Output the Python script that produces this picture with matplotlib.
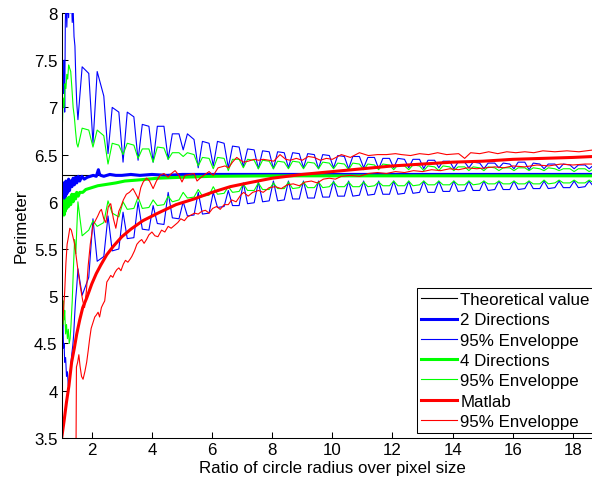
#=======================================================================
# perimeter of a digitised circle against its radius (pixel units)
#=======================================================================

import matplotlib
matplotlib.use('Agg')
import matplotlib.pyplot as plt
from matplotlib.ticker import FormatStrFormatter

#=======================================================================
# Data
#=======================================================================

x_theory = [1.0, 19.0]
y_theory = [6.2832, 6.2832]

# mean curves
x_mean2 = [1.0, 1.02, 1.04, 1.06, 1.08, 1.1, 1.12, 1.14, 1.16, 1.18, 1.2, 1.23,
           1.26, 1.3, 1.34, 1.38, 1.42, 1.46, 1.5, 1.55, 1.6, 1.67, 1.75, 1.85,
           1.95, 2.05, 2.15, 2.22, 2.26, 2.3, 2.4, 2.6, 2.8, 3.0, 3.3, 3.6, 4.0,
           4.5, 5.0, 6.0, 7.0, 8.0, 10.0, 12.0, 14.0, 16.0, 18.69]
y_mean2 = [5.98, 6.15, 5.95, 6.2, 6.02, 6.18, 6.05, 6.22, 6.08, 6.2, 6.1, 6.24,
           6.12, 6.22, 6.16, 6.25, 6.18, 6.26, 6.2, 6.27, 6.22, 6.27, 6.24, 6.26,
           6.27, 6.28, 6.27, 6.34, 6.29, 6.28, 6.27, 6.29, 6.28, 6.28, 6.29, 6.28, 6.29,
           6.28, 6.29, 6.29, 6.29, 6.29, 6.29, 6.29, 6.29, 6.29, 6.29]

x_mean4 = [1.0, 1.02, 1.04, 1.06, 1.08, 1.1, 1.12, 1.14, 1.17, 1.2, 1.23, 1.26,
           1.3, 1.34, 1.38, 1.42, 1.46, 1.5, 1.55, 1.6, 1.7, 1.8, 1.9, 2.0, 2.2,
           2.4, 2.6, 2.8, 3.1, 3.5, 4.2, 5.0, 6.0, 8.0, 10.0, 14.0, 18.69]
y_mean4 = [5.85, 6.02, 5.88, 6.0, 5.86, 5.98, 5.9, 6.02, 5.93, 6.04, 5.95, 6.05,
           5.97, 6.08, 6.0, 6.08, 6.03, 6.1, 6.06, 6.1, 6.1, 6.13, 6.14, 6.15, 6.17,
           6.18, 6.19, 6.2, 6.22, 6.23, 6.25, 6.26, 6.27, 6.275, 6.275, 6.275, 6.275]

x_matlab = [1.0, 1.08, 1.16, 1.24, 1.33, 1.42, 1.5, 1.6, 1.7, 1.83, 2.0, 2.15,
            2.3, 2.5, 2.72, 3.0, 3.3, 3.7, 4.2, 4.8, 5.4, 6.0, 6.6, 7.2, 8.0,
            9.0, 10.0, 11.0, 12.0, 13.0, 14.0, 15.0, 16.0, 17.0, 18.0, 18.69]
y_matlab = [3.5, 3.68, 3.88, 4.05, 4.3, 4.45, 4.6, 4.75, 4.88, 4.98, 5.13, 5.24,
            5.33, 5.44, 5.53, 5.63, 5.71, 5.8, 5.88, 5.97, 6.03, 6.1, 6.16, 6.2, 6.25,
            6.29, 6.32, 6.35, 6.38, 6.4, 6.42, 6.43, 6.45, 6.46, 6.47, 6.48]

# envelopes of the 2 and 4 direction methods: noisy start, then a
# ripple of period 0.5 sampled at cusp / shoulder / shoulder
x_osc = [1.54, 1.68, 1.9, 2.04, 2.18, 2.4, 2.54, 2.68, 2.9, 3.04, 3.18, 3.4,
         3.54, 3.68, 3.9, 4.04, 4.18, 4.4, 4.54, 4.68, 4.9, 5.04, 5.18, 5.4,
         5.54, 5.68, 5.9, 6.04, 6.18, 6.4, 6.54, 6.68, 6.9, 7.04, 7.18, 7.4,
         7.54, 7.68, 7.9, 8.04, 8.18, 8.4, 8.54, 8.68, 8.9, 9.04, 9.18, 9.4,
         9.54, 9.68, 9.9, 10.04, 10.18, 10.4, 10.54, 10.68, 10.9, 11.04, 11.18, 11.4,
         11.54, 11.68, 11.9, 12.04, 12.18, 12.4, 12.54, 12.68, 12.9, 13.04, 13.18, 13.4,
         13.54, 13.68, 13.9, 14.04, 14.18, 14.4, 14.54, 14.68, 14.9, 15.04, 15.18, 15.4,
         15.54, 15.68, 15.9, 16.04, 16.18, 16.4, 16.54, 16.68, 16.9, 17.04, 17.18, 17.4,
         17.54, 17.68, 17.9, 18.04, 18.18, 18.4, 18.54, 18.69]

x_up2_start = [1.0, 1.02, 1.04, 1.06, 1.08, 1.1, 1.12, 1.14, 1.17, 1.2, 1.23, 1.26,
               1.29, 1.32, 1.35, 1.38, 1.41, 1.44, 1.47, 1.5]
y_up2_start = [7.2, 7.05, 7.35, 7.15, 7.5, 6.95, 7.9, 8.2, 7.85, 8.2, 7.95, 8.2,
               8.0, 8.2, 7.9, 8.05, 7.75, 7.65, 7.3, 7.05]
y_up2 = [6.87, 7.43, 7.36, 6.62, 7.38, 7.12, 6.51, 7.0, 6.95, 6.42, 6.95, 6.9,
         6.44, 6.82, 6.8, 6.42, 6.8, 6.8, 6.45, 6.72, 6.72, 6.55, 6.72, 6.66,
         6.36, 6.64, 6.62, 6.38, 6.64, 6.62, 6.36, 6.59, 6.58, 6.37, 6.56, 6.55,
         6.35, 6.54, 6.53, 6.35, 6.53, 6.52, 6.36, 6.52, 6.51, 6.36, 6.51, 6.5,
         6.35, 6.5, 6.49, 6.36, 6.49, 6.48, 6.35, 6.48, 6.48, 6.36, 6.47, 6.47,
         6.35, 6.46, 6.46, 6.36, 6.46, 6.45, 6.36, 6.45, 6.45, 6.35, 6.44, 6.44,
         6.36, 6.43, 6.43, 6.35, 6.42, 6.42, 6.36, 6.42, 6.41, 6.35, 6.41, 6.41,
         6.36, 6.41, 6.4, 6.35, 6.42, 6.42, 6.34, 6.41, 6.4, 6.35, 6.4, 6.4,
         6.35, 6.4, 6.39, 6.35, 6.39, 6.39, 6.35, 6.39]

x_lo2_start = [1.0, 1.02, 1.04, 1.06, 1.08, 1.1, 1.13, 1.16, 1.19, 1.22, 1.25, 1.28,
               1.31, 1.34, 1.37, 1.4, 1.43, 1.46, 1.5]
y_lo2_start = [5.0, 4.6, 4.8, 4.45, 4.5, 4.3, 4.35, 4.15, 4.2, 4.05, 4.1, 4.18,
               4.3, 4.4, 4.48, 4.6, 4.79, 4.95, 5.1]
y_lo2 = [5.29, 5.01, 5.2, 5.82, 5.37, 5.42, 5.85, 5.48, 5.5, 5.89, 5.61, 5.62,
         6.0, 5.71, 5.7, 5.96, 5.77, 5.76, 6.1, 5.83, 5.82, 6.0, 5.85, 5.86,
         6.1, 5.87, 5.88, 6.1, 5.94, 5.95, 6.12, 5.96, 5.96, 6.2, 5.98, 5.99,
         6.21, 6.0, 6.01, 6.22, 6.01, 6.02, 6.22, 6.03, 6.03, 6.22, 6.04, 6.04,
         6.22, 6.05, 6.05, 6.22, 6.06, 6.06, 6.22, 6.06, 6.07, 6.22, 6.07, 6.08,
         6.22, 6.08, 6.08, 6.22, 6.08, 6.09, 6.22, 6.09, 6.1, 6.22, 6.1, 6.1,
         6.22, 6.11, 6.11, 6.22, 6.11, 6.12, 6.22, 6.12, 6.12, 6.22, 6.12, 6.13,
         6.22, 6.13, 6.13, 6.22, 6.13, 6.14, 6.22, 6.14, 6.14, 6.22, 6.14, 6.15,
         6.22, 6.15, 6.15, 6.22, 6.15, 6.16, 6.22, 6.16]

x_up4_start = [1.0, 1.02, 1.05, 1.08, 1.11, 1.14, 1.17, 1.2, 1.23, 1.26, 1.3, 1.34,
               1.38, 1.42, 1.46, 1.5]
y_up4_start = [7.0, 6.78, 7.1, 7.0, 7.25, 7.2, 7.35, 7.3, 7.45, 7.42, 7.38, 7.2,
               7.0, 6.9, 6.75, 6.62]
y_up4 = [6.58, 6.78, 6.76, 6.58, 6.76, 6.7, 6.4, 6.62, 6.6, 6.5, 6.62, 6.6,
         6.46, 6.56, 6.56, 6.42, 6.58, 6.57, 6.45, 6.52, 6.52, 6.48, 6.52, 6.5,
         6.38, 6.47, 6.46, 6.35, 6.47, 6.46, 6.33, 6.45, 6.45, 6.36, 6.45, 6.44,
         6.35, 6.44, 6.43, 6.35, 6.43, 6.42, 6.35, 6.43, 6.42, 6.35, 6.42, 6.41,
         6.35, 6.42, 6.41, 6.35, 6.41, 6.4, 6.34, 6.41, 6.4, 6.34, 6.4, 6.39,
         6.34, 6.4, 6.39, 6.34, 6.39, 6.38, 6.34, 6.39, 6.38, 6.33, 6.38, 6.37,
         6.33, 6.38, 6.37, 6.33, 6.37, 6.37, 6.33, 6.37, 6.36, 6.33, 6.37, 6.36,
         6.33, 6.36, 6.36, 6.33, 6.36, 6.36, 6.33, 6.36, 6.35, 6.33, 6.36, 6.35,
         6.33, 6.35, 6.35, 6.32, 6.35, 6.35, 6.32, 6.35]

x_lo4_start = [1.0, 1.02, 1.04, 1.06, 1.08, 1.1, 1.13, 1.16, 1.19, 1.22, 1.25, 1.28,
               1.31, 1.35, 1.39, 1.43, 1.47, 1.5]
y_lo4_start = [4.75, 5.0, 4.7, 4.95, 4.75, 4.85, 4.6, 4.7, 4.55, 4.65, 4.5, 4.55,
               4.7, 4.95, 5.3, 5.6, 5.45, 5.7]
y_lo4 = [6.0, 5.64, 5.7, 5.8, 5.74, 5.78, 6.01, 5.88, 5.84, 6.0, 5.92, 5.93,
         6.05, 5.93, 5.94, 6.02, 5.96, 5.97, 6.06, 6.0, 6.02, 6.1, 6.04, 6.05,
         6.13, 6.06, 6.07, 6.16, 6.08, 6.09, 6.16, 6.1, 6.11, 6.19, 6.12, 6.12,
         6.2, 6.13, 6.13, 6.2, 6.14, 6.14, 6.21, 6.14, 6.15, 6.21, 6.15, 6.15,
         6.21, 6.15, 6.16, 6.21, 6.16, 6.16, 6.21, 6.16, 6.16, 6.21, 6.16, 6.17,
         6.21, 6.17, 6.17, 6.22, 6.17, 6.17, 6.22, 6.17, 6.18, 6.22, 6.18, 6.18,
         6.22, 6.18, 6.18, 6.22, 6.18, 6.18, 6.22, 6.18, 6.19, 6.22, 6.19, 6.19,
         6.22, 6.19, 6.19, 6.22, 6.19, 6.19, 6.22, 6.19, 6.19, 6.23, 6.19, 6.2,
         6.23, 6.2, 6.2, 6.23, 6.2, 6.2, 6.23, 6.2]

# envelopes of the matlab estimate
x_upml = [1.0, 1.03, 1.06, 1.1, 1.14, 1.18, 1.22, 1.27, 1.32, 1.38, 1.43, 1.49,
          1.55, 1.62, 1.7, 1.76, 1.82, 1.88, 1.95, 2.04, 2.12, 2.2, 2.27, 2.32,
          2.4, 2.47, 2.55, 2.63, 2.72, 2.8, 2.9, 2.97, 3.05, 3.15, 3.25, 3.37,
          3.47, 3.55, 3.63, 3.71, 3.82, 3.92, 4.04, 4.15, 4.27, 4.4, 4.54, 4.65,
          4.77, 4.9, 5.0, 5.1, 5.25, 5.4, 5.5, 5.6, 5.77, 5.9, 6.04, 6.2,
          6.43, 6.55, 6.68, 6.82, 6.95, 7.05, 7.2, 7.4, 7.55, 7.7, 7.9, 8.05,
          8.26, 8.45, 8.6, 8.8, 9.0, 9.2, 9.4, 9.6, 9.8, 10.0, 10.3, 10.6,
          10.9, 11.2, 11.5, 11.8, 12.1, 12.3, 12.6, 12.9, 13.2, 13.5, 13.8, 14.2,
          14.4, 14.6, 14.9, 15.2, 15.5, 15.8, 16.1, 16.4, 16.7, 17.0, 17.4, 17.8,
          18.2, 18.69]
y_upml = [4.55, 4.7, 4.85, 5.05, 5.35, 5.55, 5.62, 5.72, 5.7, 5.62, 5.55, 5.4,
          5.25, 5.1, 4.95, 4.88, 5.05, 5.32, 5.55, 5.75, 5.8, 5.85, 5.9, 5.92,
          5.82, 5.78, 5.95, 5.98, 5.82, 5.72, 5.9, 5.95, 6.02, 6.08, 6.1, 6.14,
          6.08, 6.03, 6.15, 6.21, 6.25, 6.22, 6.14, 6.22, 6.28, 6.3, 6.26, 6.3,
          6.33, 6.28, 6.21, 6.28, 6.29, 6.3, 6.22, 6.25, 6.29, 6.32, 6.28, 6.36,
          6.38, 6.36, 6.42, 6.47, 6.44, 6.42, 6.43, 6.45, 6.44, 6.45, 6.44, 6.43,
          6.5, 6.45, 6.44, 6.46, 6.44, 6.48, 6.47, 6.44, 6.46, 6.45, 6.5, 6.47,
          6.52, 6.49, 6.5, 6.5, 6.51, 6.5, 6.49, 6.51, 6.5, 6.52, 6.5, 6.51,
          6.46, 6.52, 6.51, 6.53, 6.51, 6.53, 6.52, 6.53, 6.52, 6.54, 6.53, 6.54,
          6.53, 6.55]

x_loml = [1.47, 1.49, 1.53, 1.57, 1.61, 1.66, 1.71, 1.77, 1.83, 1.88, 1.93, 1.98,
          2.05, 2.1, 2.15, 2.21, 2.26, 2.32, 2.38, 2.43, 2.5, 2.56, 2.63, 2.7,
          2.77, 2.83, 2.9, 2.97, 3.05, 3.12, 3.2, 3.27, 3.33, 3.42, 3.5, 3.58,
          3.66, 3.74, 3.82, 3.9, 4.0, 4.1, 4.2, 4.32, 4.43, 4.54, 4.64, 4.75,
          4.86, 4.96, 5.08, 5.18, 5.3, 5.42, 5.54, 5.66, 5.78, 5.9, 6.02, 6.15,
          6.27, 6.4, 6.54, 6.65, 6.8, 6.95, 7.05, 7.2, 7.35, 7.55, 7.7, 7.9,
          8.1, 8.3, 8.5, 8.7, 8.9, 9.1, 9.3, 9.5, 9.7, 9.9, 10.1, 10.3,
          10.6, 10.9, 11.2, 11.5, 11.8, 12.1, 12.4, 12.7, 13.0, 13.3, 13.6, 13.9,
          14.2, 14.5, 14.8, 15.1, 15.4, 15.7, 16.0, 16.4, 16.8, 17.2, 17.6, 18.0,
          18.4, 18.69]
y_loml = [3.0, 4.25, 4.3, 4.38, 4.26, 4.15, 4.12, 4.2, 4.3, 4.42, 4.55, 4.66,
          4.73, 4.78, 4.8, 4.83, 4.78, 4.88, 4.92, 4.95, 5.15, 5.18, 5.22, 5.2,
          5.25, 5.28, 5.3, 5.27, 5.34, 5.38, 5.36, 5.39, 5.42, 5.48, 5.55, 5.58,
          5.6, 5.56, 5.6, 5.65, 5.68, 5.64, 5.63, 5.7, 5.68, 5.74, 5.72, 5.75,
          5.78, 5.82, 5.8, 5.84, 5.86, 5.88, 5.87, 5.9, 5.91, 5.88, 5.93, 5.95,
          5.92, 5.97, 5.97, 6.02, 6.0, 6.07, 6.1, 6.06, 6.1, 6.12, 6.1, 6.15,
          6.16, 6.14, 6.18, 6.19, 6.17, 6.21, 6.22, 6.2, 6.24, 6.25, 6.24, 6.27,
          6.28, 6.27, 6.3, 6.31, 6.3, 6.32, 6.31, 6.33, 6.32, 6.34, 6.33, 6.35,
          6.34, 6.36, 6.35, 6.36, 6.37, 6.36, 6.38, 6.37, 6.39, 6.38, 6.4, 6.39,
          6.4, 6.4]

x_ticks = [2, 4, 6, 8, 10, 12, 14, 16, 18]
y_ticks = [3.5, 4, 4.5, 5, 5.5, 6, 6.5, 7, 7.5, 8]

labels = ['Theoretical value', '2 Directions', '95% Enveloppe',
          '4 Directions', '95% Enveloppe', 'Matlab', '95% Enveloppe']

#=======================================================================
# Plot
#=======================================================================

plt.rcParams['font.family'] = ['Liberation Sans', 'DejaVu Sans']
plt.rcParams['font.size'] = 12.2

thick = 2.2
thin = 0.8

fig = plt.figure(figsize=(5.92, 4.81), dpi=100)
# the axes runs slightly past the right border, as in the cropped original
ax = fig.add_axes([61.7 / 592, 42.2 / 481, (603 - 61.7) / 592, 424.8 / 481])

ax.plot(x_theory, y_theory, color='k', lw=thin, label=labels[0])

ax.plot(x_mean2, y_mean2, color='b', lw=thick, label=labels[1])
ax.plot(x_up2_start + x_osc, y_up2_start + y_up2, color='b', lw=thin, label=labels[2])
ax.plot(x_lo2_start + x_osc, y_lo2_start + y_lo2, color='b', lw=thin)

ax.plot(x_mean4, y_mean4, color='#00ff00', lw=thick, label=labels[3])
ax.plot(x_up4_start + x_osc, y_up4_start + y_up4, color='#00ff00', lw=thin, label=labels[4])
ax.plot(x_lo4_start + x_osc, y_lo4_start + y_lo4, color='#00ff00', lw=thin)

ax.plot(x_matlab, y_matlab, color='r', lw=thick, label=labels[5])
ax.plot(x_upml, y_upml, color='r', lw=thin, label=labels[6])
ax.plot(x_loml, y_loml, color='r', lw=thin)

ax.set_xlim(1, 19)
ax.set_ylim(3.5, 8)
ax.set_xticks(x_ticks)
ax.set_yticks(y_ticks)
ax.yaxis.set_major_formatter(FormatStrFormatter('%g'))
ax.tick_params(direction='in', length=4, width=0.75, pad=3)

for side in ['top', 'right']:
    ax.spines[side].set_visible(False)
for side in ['left', 'bottom']:
    ax.spines[side].set_linewidth(0.75)

ax.set_xlabel('Ratio of circle radius over pixel size', labelpad=2)
ax.set_ylabel('Perimeter', labelpad=4)

leg = ax.legend(loc='lower left', bbox_to_anchor=(417 / 592, 47 / 481),
                bbox_transform=fig.transFigure, borderaxespad=0,
                fancybox=False, framealpha=1, edgecolor='k',
                handlelength=2.1, handletextpad=0.2, labelspacing=0.31,
                borderpad=0.25)
leg.get_frame().set_linewidth(0.75)

fig.savefig('out.png', dpi=100)
